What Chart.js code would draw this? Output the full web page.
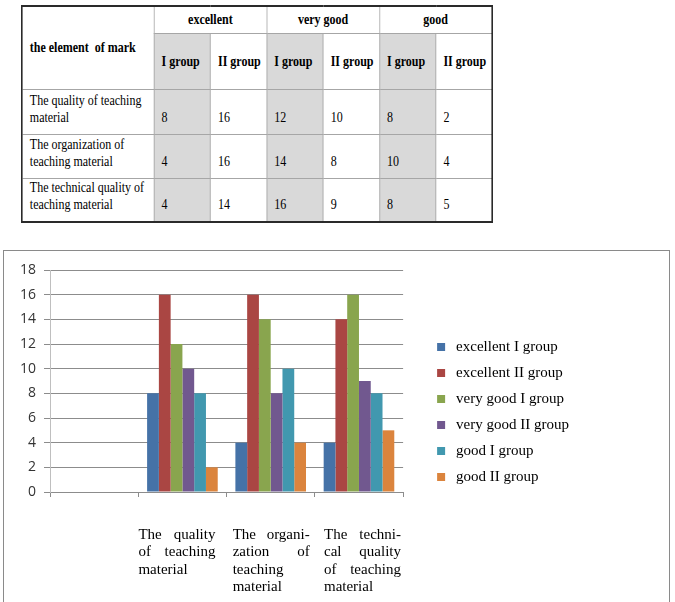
<!DOCTYPE html>
<html>
<head>
<meta charset="utf-8">
<script src="https://cdn.jsdelivr.net/npm/chart.js@4/dist/chart.umd.min.js"></script>
<style>
    html, body { margin: 0; padding: 0; background: #fff; overflow: hidden; }
    body { width: 675px; height: 602px; position: relative; }
    #tableWrap {
        position: absolute; left: 21px; top: 5px;
        transform: scaleX(0.8); transform-origin: 0 0;
    }
    table {
        border-collapse: collapse; width: 590px;
        font-family: "Liberation Serif", "Times New Roman", serif;
        font-size: 15px; line-height: 17px; color: #000;
        border: 2px solid #2a2a2a;
    }
    td, th { border: 1px solid #a6a6a6; padding: 0 0 0 9px; text-align: left; }
    th { font-weight: bold; }
    th.center { text-align: center; padding-left: 0; }
    .shade { background: #d9d9d9; }
    tr.data td { vertical-align: bottom; padding-bottom: 8px; }
    #chartBox {
        position: absolute; left: 3px; top: 250px;
        width: 665px; height: 353px; border: 1px solid #8a8a8a;
    }
</style>
</head>
<body>
<div id="tableWrap"><table id="marks"></table></div>
<div id="chartBox"><canvas id="marksChart" width="665" height="353"></canvas></div>

<script>
// Dados da tabela e do gráfico
const marks = ['excellent', 'very good', 'good'];
const groups = ['I group', 'II group'];
const elements = [
    'The quality of teaching material',
    'The organization of teaching material',
    'The technical quality of teaching material'
];
// rótulos do eixo x, já quebrados em linhas como no original
const tickLines = [
    ['The quality', 'of teaching', 'material'],
    ['The organi-', 'zation of', 'teaching', 'material'],
    ['The techni-', 'cal quality', 'of teaching', 'material']
];
const excellentI = [8, 4, 4];
const excellentII = [16, 16, 14];
const veryGoodI = [12, 14, 16];
const veryGoodII = [10, 8, 9];
const goodI = [8, 10, 8];
const goodII = [2, 4, 5];
const yTicks = [0, 2, 4, 6, 8, 10, 12, 14, 16, 18];

const series = [
    { label: 'excellent I group', values: excellentI, color: '#4572A7' },
    { label: 'excellent II group', values: excellentII, color: '#AA4643' },
    { label: 'very good I group', values: veryGoodI, color: '#89A54E' },
    { label: 'very good II group', values: veryGoodII, color: '#71588F' },
    { label: 'good I group', values: goodI, color: '#4198AF' },
    { label: 'good II group', values: goodII, color: '#DB843D' }
];

// Montar a tabela
function montarTabela() {
    const table = document.getElementById('marks');
    let html = '<colgroup><col style="width:166px">';
    for (let i = 0; i < 6; i++) html += '<col style="width:70.66px">';
    html += '</colgroup>';
    html += '<tr style="height:27px"><th rowspan="2">the element &nbsp;of mark</th>';
    marks.forEach(m => { html += `<th class="center" colspan="2">${m}</th>`; });
    html += '</tr><tr style="height:56px">';
    marks.forEach(() => {
        groups.forEach((g, gi) => {
            html += `<th class="${gi === 0 ? 'shade' : ''}">${g}</th>`;
        });
    });
    html += '</tr>';
    const rowHeights = [45, 44, 43];
    elements.forEach((el, r) => {
        html += `<tr class="data" style="height:${rowHeights[r]}px"><td>${el}</td>`;
        series.forEach((s, si) => {
            html += `<td class="${si % 2 === 0 ? 'shade' : ''}">${s.values[r]}</td>`;
        });
        html += '</tr>';
    });
    table.innerHTML = html;
}
montarTabela();

// Plugin para desenhar os rótulos do eixo x justificados
const justifyLabels = {
    id: 'justifyLabels',
    afterDraw(chart) {
        const xScale = chart.scales.x;
        const ctx = chart.ctx;
        const boxWidth = 77;
        const shifts = [-44, -38, -35];
        ctx.save();
        ctx.font = '15px "Liberation Serif"';
        ctx.fillStyle = '#000';
        ctx.textBaseline = 'middle';
        ctx.textAlign = 'left';
        tickLines.forEach((lines, i) => {
            const left = xScale.getPixelForValue(i + 1) + shifts[i];
            lines.forEach((line, j) => {
                const y = xScale.top + 43 + j * 17.3;
                const words = line.split(' ');
                if (j === lines.length - 1 || words.length < 2) {
                    ctx.fillText(line, left, y);
                    return;
                }
                const total = words.reduce((sum, w) => sum + ctx.measureText(w).width, 0);
                const gap = (boxWidth - total) / (words.length - 1);
                let x = left;
                words.forEach(w => {
                    ctx.fillText(w, x, y);
                    x += ctx.measureText(w).width + gap;
                });
            });
        });
        ctx.restore();
    }
};

const ctx = document.getElementById('marksChart').getContext('2d');
new Chart(ctx, {
    type: 'bar',
    data: {
        labels: [''].concat(elements),
        datasets: series.map(s => ({
            label: s.label,
            data: [null].concat(s.values),
            backgroundColor: s.color,
            borderWidth: 0,
            barPercentage: 1,
            categoryPercentage: 0.8
        }))
    },
    options: {
        responsive: false,
        animation: false,
        layout: { padding: { top: 19, left: 0, right: 90, bottom: 50 } },
        plugins: {
            legend: {
                position: 'right',
                maxWidth: 220,
                labels: {
                    usePointStyle: true,
                    pointStyle: 'rect',
                    boxWidth: 15,
                    boxHeight: 8,
                    padding: 11,
                    color: '#000',
                    font: { family: '"Liberation Serif"', size: 15 }
                }
            },
            tooltip: { enabled: false }
        },
        scales: {
            x: {
                grid: { drawOnChartArea: false, drawTicks: true, tickLength: 5, color: '#8c8c8c', offset: true },
                border: { color: '#8c8c8c' },
                ticks: { display: false },
                afterFit: function(scale) { scale.height = 62; }
            },
            y: {
                min: 0,
                max: 18,
                afterBuildTicks: function(scale) {
                    scale.ticks = yTicks.map(v => ({ value: v }));
                },
                ticks: {
                    padding: 8,
                    color: '#333333',
                    font: { family: '"Open Sans"', size: 14 }
                },
                grid: { color: '#8c8c8c', tickLength: 6 },
                border: { color: '#bfbfbf' },
                afterFit: function(scale) { scale.width = 46; }
            },
            gap: {
                type: 'linear',
                position: 'right',
                grid: { display: false },
                border: { display: false },
                ticks: { display: false },
                afterFit: function(scale) { scale.width = 19.5; }
            }
        }
    },
    plugins: [justifyLabels]
});
</script>
</body>
</html>
